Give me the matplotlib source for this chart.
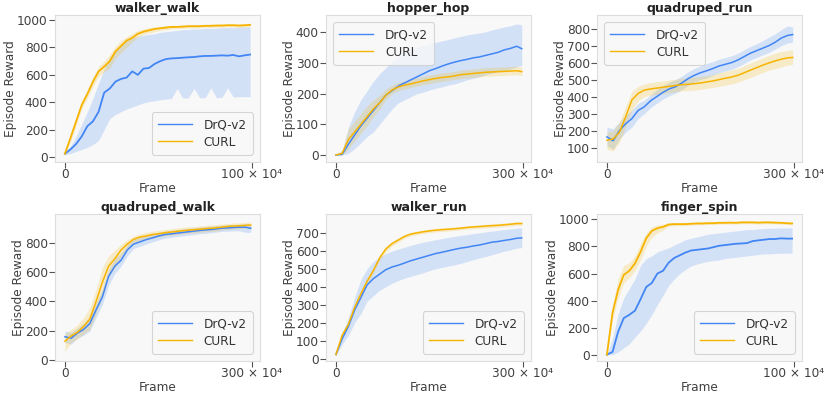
import matplotlib
matplotlib.use("Agg")
import matplotlib.pyplot as plt
import numpy as np

plt.rcParams['font.family'] = ['DejaVu Sans']

BLUE = '#4285f4'
YELLOW = '#f6b400'

# ---------------- data (frames in units of 1e4) ----------------
titles = ['walker_walk', 'hopper_hop', 'quadruped_run',
          'quadruped_walk', 'walker_run', 'finger_spin']

x_short = [0, 3, 6, 9, 12, 15, 18, 21, 24, 27, 30, 33, 36, 39, 42, 45, 48, 51, 54,
           57, 60, 63, 66, 69, 72, 75, 78, 81, 84, 87, 90, 93, 96, 99]
x_long = [0, 10, 20, 30, 40, 50, 60, 70, 80, 90, 100, 110, 120, 130, 140, 150, 160,
          170, 180, 190, 200, 210, 220, 230, 240, 250, 260, 270, 280, 290, 298]

# walker_walk
ww_drq = [24, 55, 95, 150, 225, 260, 330, 470, 500, 550, 570, 580, 625, 600, 645, 650, 680,
          700, 715, 720, 722, 725, 728, 730, 735, 738, 738, 740, 742, 740, 745, 735, 742, 748]
ww_drq_hi = [30, 80, 150, 240, 330, 430, 540, 640, 730, 780, 820, 850, 870, 880, 890, 895, 900,
             910, 915, 920, 925, 930, 930, 935, 935, 940, 940, 940, 945, 945, 945, 948, 950, 950]
ww_drq_lo = [15, 25, 40, 55, 70, 90, 120, 200, 280, 310, 330, 350, 365, 380, 395, 405, 410,
             418, 422, 428, 500, 430, 432, 500, 432, 432, 505, 432, 435, 505, 438, 440, 440, 440]
ww_curl = [24, 140, 260, 380, 460, 550, 625, 660, 700, 770, 810, 850, 870, 900, 915, 925, 935,
           940, 945, 950, 950, 952, 955, 955, 955, 958, 958, 960, 960, 962, 962, 960, 962, 965]
ww_curl_hi = [30, 170, 290, 410, 490, 585, 660, 700, 750, 810, 850, 880, 900, 925, 935, 945, 950,
              955, 958, 962, 962, 965, 966, 966, 966, 968, 968, 970, 970, 972, 972, 970, 972, 975]
ww_curl_lo = [18, 110, 230, 350, 430, 515, 590, 620, 650, 720, 760, 800, 840, 875, 895, 905, 915,
              925, 930, 935, 938, 940, 942, 944, 944, 946, 946, 948, 948, 950, 950, 948, 950, 952]

# hopper_hop
hh_drq = [0, 2, 35, 65, 95, 120, 145, 170, 195, 210, 225, 235, 245, 255, 265, 275, 282,
          290, 297, 303, 308, 312, 317, 320, 325, 330, 335, 343, 348, 355, 347]
hh_drq_hi = [0, 15, 90, 140, 180, 210, 240, 265, 285, 305, 320, 335, 345, 352, 358, 362, 368,
             372, 377, 382, 387, 392, 395, 398, 402, 408, 413, 418, 422, 428, 425]
hh_drq_lo = [0, 0, 5, 20, 40, 60, 75, 100, 125, 150, 170, 180, 190, 200, 205, 212, 218,
             222, 228, 232, 238, 245, 250, 255, 262, 267, 272, 276, 280, 288, 292]
hh_curl = [0, 5, 50, 75, 100, 125, 150, 170, 195, 212, 222, 228, 232, 237, 242, 246, 250,
           253, 255, 258, 262, 264, 266, 268, 270, 271, 272, 273, 274, 275, 272]
hh_curl_hi = [0, 15, 85, 110, 135, 160, 180, 195, 215, 228, 237, 242, 247, 252, 257, 261, 265,
              268, 270, 273, 277, 279, 281, 283, 285, 286, 287, 288, 289, 290, 287]
hh_curl_lo = [0, 0, 20, 45, 70, 95, 125, 150, 180, 200, 210, 215, 220, 225, 229, 233, 237,
              240, 243, 246, 249, 251, 253, 255, 257, 258, 259, 260, 261, 262, 259]

# quadruped_run
qr_drq = [163, 140, 200, 240, 270, 318, 340, 375, 400, 425, 445, 458, 480, 505, 525, 540, 552,
          565, 580, 590, 600, 615, 635, 655, 670, 685, 700, 720, 745, 760, 765]
qr_drq_hi = [220, 210, 250, 290, 320, 360, 380, 410, 440, 465, 485, 500, 520, 545, 565, 580, 595,
             605, 620, 630, 640, 655, 675, 695, 710, 730, 750, 770, 795, 815, 810]
qr_drq_lo = [110, 90, 150, 190, 220, 270, 300, 335, 360, 385, 405, 420, 440, 465, 485, 500, 510,
             525, 540, 550, 560, 575, 595, 615, 630, 645, 660, 680, 700, 715, 720]
qr_curl = [143, 150, 190, 280, 380, 418, 438, 445, 450, 455, 460, 465, 470, 472, 476, 480, 486,
           492, 500, 508, 515, 525, 540, 555, 570, 585, 598, 610, 620, 628, 630]
qr_curl_hi = [190, 200, 250, 340, 430, 460, 475, 482, 488, 492, 497, 502, 507, 510, 514, 518, 524,
              530, 540, 548, 556, 566, 582, 598, 612, 628, 642, 656, 665, 672, 675]
qr_curl_lo = [90, 80, 130, 220, 320, 375, 400, 408, 412, 418, 423, 428, 433, 435, 438, 442, 448,
              454, 460, 468, 474, 484, 498, 512, 528, 542, 555, 565, 575, 585, 590]

# quadruped_walk
qw_drq = [160, 150, 185, 210, 250, 343, 430, 570, 640, 680, 750, 790, 805, 820, 832, 845, 855,
          860, 865, 870, 875, 880, 885, 888, 892, 898, 900, 903, 905, 905, 898]
qw_drq_hi = [200, 190, 220, 250, 300, 390, 480, 620, 690, 730, 785, 820, 835, 850, 860, 870, 878,
             883, 888, 893, 898, 903, 908, 911, 914, 918, 920, 923, 925, 928, 925]
qw_drq_lo = [120, 110, 150, 170, 200, 290, 380, 510, 590, 640, 710, 760, 775, 790, 805, 818, 830,
             836, 842, 847, 852, 857, 862, 865, 870, 876, 878, 880, 880, 870, 870]
qw_curl = [130, 165, 190, 230, 280, 400, 530, 640, 690, 750, 790, 822, 838, 845, 855, 860, 868,
           872, 877, 882, 886, 889, 893, 897, 900, 905, 910, 913, 915, 918, 920]
qw_curl_hi = [180, 210, 240, 290, 360, 480, 630, 710, 750, 790, 820, 845, 860, 870, 878, 883, 890,
              895, 900, 905, 908, 911, 915, 919, 922, 926, 930, 933, 935, 938, 940]
qw_curl_lo = [60, 120, 145, 180, 210, 320, 430, 570, 630, 705, 760, 800, 815, 822, 832, 838, 846,
              850, 855, 860, 864, 867, 871, 875, 878, 884, 890, 893, 895, 898, 900]

# walker_run
wr_drq = [23, 110, 180, 270, 340, 410, 445, 470, 495, 510, 520, 532, 545, 555, 565, 575, 585,
          592, 600, 608, 615, 620, 627, 632, 640, 648, 652, 658, 663, 670, 672]
wr_drq_hi = [30, 140, 230, 340, 440, 500, 540, 565, 585, 598, 610, 620, 630, 640, 648, 655, 662,
             668, 675, 680, 686, 690, 696, 700, 705, 710, 714, 718, 722, 726, 728]
wr_drq_lo = [18, 80, 130, 200, 250, 320, 350, 380, 400, 420, 435, 448, 458, 468, 478, 490, 500,
             508, 515, 522, 530, 540, 550, 560, 568, 578, 588, 598, 605, 615, 618]
wr_curl = [23, 130, 190, 285, 360, 430, 490, 560, 610, 640, 660, 680, 693, 700, 706, 711, 715,
           718, 720, 723, 726, 730, 733, 735, 738, 740, 742, 745, 748, 752, 752]
wr_curl_hi = [28, 145, 205, 300, 375, 445, 505, 575, 625, 652, 672, 690, 703, 710, 716, 721, 725,
              728, 730, 733, 736, 740, 743, 745, 748, 750, 752, 755, 758, 762, 762]
wr_curl_lo = [18, 115, 175, 270, 345, 415, 475, 545, 595, 628, 648, 670, 683, 690, 696, 701, 705,
              708, 710, 713, 716, 720, 723, 725, 728, 730, 732, 735, 738, 742, 742]

# finger_spin
fs_drq = [0, 20, 170, 270, 295, 325, 410, 500, 530, 600, 620, 680, 715, 735, 755, 770, 775,
          780, 785, 795, 805, 810, 815, 820, 822, 825, 840, 845, 850, 855, 855, 860, 858, 858]
fs_drq_hi = [0, 120, 300, 420, 490, 560, 660, 710, 730, 760, 775, 790, 810, 830, 850, 860, 870,
             880, 890, 895, 900, 905, 910, 915, 920, 925, 925, 930, 932, 935, 935, 937, 937, 937]
fs_drq_lo = [0, 0, 20, 50, 80, 130, 175, 230, 295, 370, 440, 510, 560, 600, 630, 655, 670,
             680, 690, 695, 700, 710, 715, 720, 725, 730, 735, 740, 745, 745, 748, 750, 750, 750]
fs_curl = [0, 310, 480, 590, 620, 675, 760, 860, 915, 935, 945, 962, 965, 965, 965, 968, 970,
           970, 972, 972, 975, 975, 976, 975, 978, 978, 978, 976, 978, 978, 976, 975, 972, 970]
fs_curl_hi = [0, 360, 560, 660, 680, 730, 820, 900, 945, 960, 965, 975, 976, 976, 976, 978, 980,
              980, 982, 982, 985, 985, 986, 985, 988, 988, 988, 986, 988, 988, 986, 985, 982, 980]
fs_curl_lo = [0, 260, 420, 530, 570, 620, 700, 800, 870, 900, 920, 950, 954, 954, 954, 957, 960,
              960, 962, 962, 965, 965, 966, 965, 968, 968, 968, 966, 968, 968, 966, 965, 962, 960]

panels = [
    dict(x=x_short, d=(ww_drq, ww_drq_lo, ww_drq_hi), c=(ww_curl, ww_curl_lo, ww_curl_hi),
         xmax=100, ylim=(-37, 1037), yticks=[0, 200, 400, 600, 800, 1000], loc='lower right', lw=1.3),
    dict(x=x_long, d=(hh_drq, hh_drq_lo, hh_drq_hi), c=(hh_curl, hh_curl_lo, hh_curl_hi),
         xmax=300, ylim=(-23, 457), yticks=[0, 100, 200, 300, 400], loc='upper left', lw=1.1),
    dict(x=x_long, d=(qr_drq, qr_drq_lo, qr_drq_hi), c=(qr_curl, qr_curl_lo, qr_curl_hi),
         xmax=300, ylim=(15, 880), yticks=[100, 200, 300, 400, 500, 600, 700, 800], loc='upper left', lw=1.1),
    dict(x=x_long, d=(qw_drq, qw_drq_lo, qw_drq_hi), c=(qw_curl, qw_curl_lo, qw_curl_hi),
         xmax=300, ylim=(-5, 995), yticks=[0, 200, 400, 600, 800], loc='lower right', lw=1.1),
    dict(x=x_long, d=(wr_drq, wr_drq_lo, wr_drq_hi), c=(wr_curl, wr_curl_lo, wr_curl_hi),
         xmax=300, ylim=(-13, 805), yticks=[0, 100, 200, 300, 400, 500, 600, 700], loc='lower right', lw=1.1),
    dict(x=x_short, d=(fs_drq, fs_drq_lo, fs_drq_hi), c=(fs_curl, fs_curl_lo, fs_curl_hi),
         xmax=100, ylim=(-47, 1040), yticks=[0, 200, 400, 600, 800, 1000], loc='lower right', lw=1.3),
]

W, H = 830, 396
fig = plt.figure(figsize=(W / 100, H / 100), dpi=100)

lefts = [55, 326, 597]
tops = [15, 214]
aw, ah = 205, 147

TXT = '#404040'
SPINE = '#dddddd'
FS = 8.7

for i, (p, title) in enumerate(zip(panels, titles)):
    r, cidx = divmod(i, 3)
    l = lefts[cidx]
    t = tops[r]
    ax = fig.add_axes([l / W, 1 - (t + ah) / H, aw / W, ah / H])
    ax.set_facecolor('#f8f8f8')
    x = np.array(p['x'])
    m, lo, hi = p['d']
    ax.fill_between(x, lo, hi, color=BLUE, alpha=0.2, lw=0)
    ax.plot(x, m, color=BLUE, lw=p['lw'], label='DrQ-v2')
    m, lo, hi = p['c']
    ax.fill_between(x, lo, hi, color=YELLOW, alpha=0.2, lw=0)
    ax.plot(x, m, color=YELLOW, lw=p['lw'], label='CURL')

    xm = p['xmax']
    ax.set_xlim(-0.053 * xm, 1.043 * xm)
    ax.set_ylim(*p['ylim'])
    ax.set_xticks([0, xm])
    ax.set_xticklabels(['0', f'{xm} × 10\u2074'])
    ax.set_yticks(p['yticks'])
    ax.tick_params(axis='both', direction='out', length=4, width=0.8, color='#555555',
                   labelcolor=TXT, labelsize=FS, pad=1.2)
    ax.tick_params(axis='x', pad=0)
    for s in ax.spines.values():
        s.set_color(SPINE)
        s.set_linewidth(0.8)
    ax.set_title(title, fontsize=9, fontweight='bold', color='#222222', pad=0.5)
    ax.set_xlabel('Frame', fontsize=FS, color=TXT, labelpad=1)
    ax.set_ylabel('Episode Reward', fontsize=FS, color=TXT, labelpad=0)
    leg = ax.legend(loc=p['loc'], fontsize=FS, handlelength=2.8, frameon=True,
                    borderpad=0.5, labelspacing=0.35, handletextpad=1.0, borderaxespad=0.6)
    leg.get_frame().set_edgecolor('#cccccc')
    leg.get_frame().set_facecolor('#f8f8f8')
    leg.get_frame().set_linewidth(0.8)
    for ln in leg.get_lines():
        ln.set_linewidth(1.0)
    for txt in leg.get_texts():
        txt.set_color('#333333')

fig.savefig('out.png', dpi=100)
